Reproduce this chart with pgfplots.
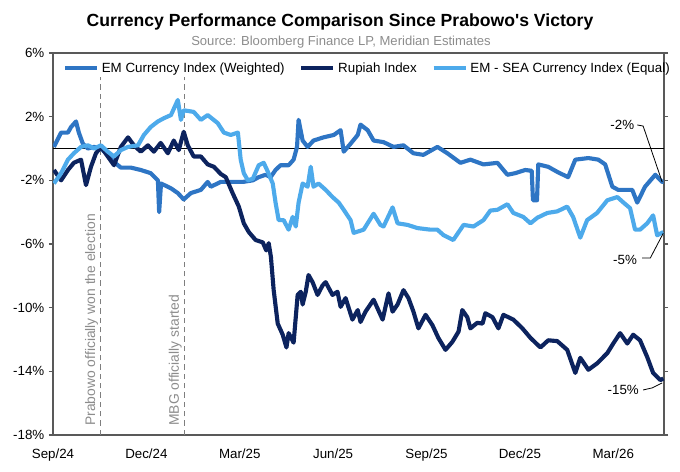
\documentclass[border=0pt]{standalone}
\usepackage{fontspec}
\setmainfont{Liberation Sans}
\usepackage{pgfplots}
\pgfplotsset{compat=1.18}
\definecolor{emw}{RGB}{46,117,196}
\definecolor{rup}{RGB}{12,35,94}
\definecolor{sea}{RGB}{77,170,235}
\definecolor{axgray}{RGB}{89,89,89}
\definecolor{txtgray}{RGB}{140,140,140}
\begin{document}
\begin{tikzpicture}
\path[use as bounding box] (-39.75pt,-27pt) rectangle (470.25pt,326.25pt);
\node[font=\fontsize{13.2}{16}\selectfont\bfseries] at (215.25pt,309.5pt) {Currency Performance Comparison Since Prabowo\XeTeXglyph\XeTeXcharglyph"0027 s Victory};
\node[font=\fontsize{9.8}{12}\selectfont, text=txtgray] at (216pt,294.5pt) {Source: Bloomberg Finance LP, Meridian Estimates};
\begin{axis}[
  at={(0,0)}, anchor=south west,
  scale only axis, width=458.25pt, height=286.5pt,
  xmin=0, xmax=19.63, ymin=-18, ymax=6,
  xtick={0,3,6,9,12,15,18},
  xticklabels={Sep/24,Dec/24,Mar/25,Jun/25,Sep/25,Dec/25,Mar/26},
  ytick={-18,-14,-10,-6,-2,2,6},
  yticklabels={-18\%,-14\%,-10\%,-6\%,-2\%,2\%,6\%},
  tick label style={font=\fontsize{10}{12}\selectfont},
  xticklabel style={yshift=-4pt},
  major x tick style={draw=none},
  ytick style={draw=axgray, line width=0.8pt},
  tick align=outside, major tick length=3pt,
  axis line style={draw=axgray, line width=0.9pt},
  legend style={at={(0.515,0.99)}, anchor=north, draw=none, fill=none,
     font=\fontsize{10}{12}\selectfont, legend columns=3,
     /tikz/every even column/.append style={column sep=9pt}},
  legend image code/.code={\draw[#1, line width=3.2pt] (0pt,0pt) -- (24pt,0pt);},
  every axis plot/.append style={line join=round},
]
\addplot[black, line width=0.7pt, forget plot] coordinates {(0,0) (19.63,0)};
\addplot[txtgray!90!black, line width=0.8pt, dash pattern=on 4pt off 3pt, forget plot] coordinates {(1.54,-18) (1.54,4.5)};
\addplot[txtgray!90!black, line width=0.8pt, dash pattern=on 4pt off 3pt, forget plot] coordinates {(4.23,-18) (4.23,4.5)};

\addplot[emw, line width=3.1pt] coordinates {
(0.03,0.1) (0.26,1.0) (0.48,1.0) (0.58,1.35) (0.74,1.7) (0.83,1.0) (0.96,0.3) (1.12,0.0) (1.32,0.1) (1.54,0.0)
(1.76,-0.4) (1.96,-0.85) (2.18,-1.2) (2.50,-1.2) (2.82,-1.35) (3.14,-1.55) (3.37,-2.0) (3.41,-4.0) (3.47,-2.2)
(3.79,-2.5) (4.01,-2.8) (4.20,-3.2) (4.43,-2.8) (4.75,-2.6) (4.97,-2.1) (5.07,-2.4) (5.39,-2.1) (5.77,-2.1)
(6.10,-2.1) (6.42,-2.0) (6.61,-1.8) (6.83,-1.65) (6.99,-1.8) (7.15,-1.35) (7.31,-1.05) (7.57,-1.05) (7.73,-0.7)
(7.84,0.1) (7.89,1.8) (8.02,0.5)
(8.18,0.1) (8.37,0.5) (8.69,0.7) (9.02,0.85) (9.24,1.15) (9.34,-0.2) (9.56,0.3) (9.79,0.85) (9.88,1.5)
(10.11,1.15) (10.30,0.5) (10.62,0.4) (10.94,0.1) (11.26,0.2) (11.58,-0.3) (11.90,-0.4) (12.35,0.1) (12.67,-0.3)
(13.09,-0.9) (13.41,-0.7) (13.83,-1.0) (14.28,-0.9) (14.60,-1.65) (14.85,-1.55) (15.17,-1.35) (15.38,-1.4)
(15.42,-3.25) (15.55,-3.25) (15.59,-1.0) (15.91,-1.15) (16.23,-1.5) (16.55,-1.8) (16.78,-0.7) (17.20,-0.6)
(17.52,-0.7) (17.74,-1.0) (17.97,-2.4) (18.16,-2.6) (18.61,-2.6) (18.77,-3.4) (19.02,-2.4) (19.35,-1.65)
(19.57,-2.1) (19.62,-2.1)
};
\addlegendentry{EM Currency Index (Weighted)}

\addplot[rup, line width=3.1pt] coordinates {
(0.03,-1.35) (0.26,-2.0) (0.48,-1.35) (0.67,-0.9) (0.90,-0.7) (1.06,-2.3) (1.22,-1.15) (1.38,-0.3) (1.54,0.1)
(1.76,-0.5) (1.96,-1.05) (2.18,0.1) (2.41,0.7) (2.60,0.2) (2.82,-0.2) (3.05,0.2) (3.24,-0.2) (3.46,0.35)
(3.69,-0.3) (3.88,0.5) (4.04,-0.1) (4.20,1.05) (4.33,0.2) (4.52,-0.5) (4.75,-0.5) (4.97,-1.0) (5.17,-1.15)
(5.39,-1.6) (5.55,-1.8) (5.77,-2.8) (5.97,-3.65) (6.13,-4.7) (6.29,-5.25) (6.51,-5.75) (6.74,-5.9) (6.85,-6.4)
(6.93,-5.95) (7.00,-6.8) (7.09,-8.9) (7.22,-11.0) (7.38,-11.7) (7.50,-12.5) (7.57,-11.6) (7.73,-12.2)
(7.86,-9.2) (7.96,-9.0) (8.02,-9.8) (8.12,-9.0) (8.21,-7.95) (8.34,-8.4) (8.50,-9.2) (8.66,-8.6) (8.76,-8.4)
(8.98,-9.2) (9.14,-9.0) (9.24,-9.95) (9.40,-9.4) (9.62,-10.75) (9.79,-10.15) (9.88,-10.9) (10.04,-10.25)
(10.30,-9.5) (10.59,-10.75) (10.78,-9.1) (10.91,-10.25) (11.07,-9.8) (11.26,-8.9) (11.42,-9.4) (11.58,-10.25)
(11.74,-11.3) (11.97,-10.45) (12.19,-11.1) (12.38,-11.9) (12.61,-12.65) (12.83,-12.15) (13.03,-11.5)
(13.15,-10.15) (13.31,-10.6) (13.41,-11.3) (13.63,-10.95) (13.80,-11.0) (13.89,-10.35) (14.12,-10.6)
(14.31,-11.3) (14.47,-10.45) (14.79,-10.75) (15.08,-11.3) (15.34,-11.9) (15.66,-12.5) (15.91,-12.05)
(16.20,-12.1) (16.52,-12.65) (16.78,-14.1) (16.94,-13.15) (17.20,-13.9) (17.48,-13.5) (17.81,-12.85)
(18.00,-12.25) (18.22,-11.6) (18.45,-12.25) (18.64,-11.7) (18.86,-12.05) (19.09,-13.1) (19.28,-14.1)
(19.51,-14.55) (19.61,-14.45)
};
\addlegendentry{Rupiah Index}

\addplot[sea, line width=3.1pt] coordinates {
(0.03,-2.2) (0.26,-1.55) (0.48,-0.7) (0.67,-0.3) (0.90,0.1) (1.12,0.2) (1.32,0.0) (1.54,0.2) (1.76,-0.2)
(1.96,-0.5) (2.18,-0.1) (2.41,0.1) (2.73,0.2) (2.92,0.85) (3.14,1.35) (3.37,1.7) (3.56,1.9) (3.79,2.1)
(4.01,3.05) (4.11,1.8) (4.20,2.4) (4.52,2.3) (4.75,1.8) (4.97,2.1) (5.29,1.6) (5.49,1.0) (5.71,0.85)
(5.94,1.0) (6.03,-0.7) (6.13,-1.55) (6.26,-2.0) (6.42,-1.9) (6.61,-1.05) (6.77,-0.9) (6.90,-1.45)
(7.06,-2.2) (7.15,-3.4) (7.25,-4.5) (7.41,-4.5) (7.57,-5.1) (7.70,-4.3) (7.80,-4.9) (7.89,-3.4) (8.02,-2.2)
(8.18,-2.4) (8.28,-1.15) (8.37,-2.4) (8.53,-2.2) (8.76,-2.6) (8.98,-3.05) (9.18,-3.4) (9.34,-3.85)
(9.56,-4.5) (9.66,-5.3) (9.98,-5.1) (10.30,-4.1) (10.52,-4.8)
(10.62,-4.9) (10.91,-3.7) (11.07,-4.7) (11.39,-4.8) (11.71,-5.0) (12.13,-5.1) (12.35,-5.1) (12.55,-5.45)
(12.86,-5.75) (13.19,-4.8) (13.51,-4.9) (13.83,-4.5) (14.05,-3.9) (14.28,-3.85) (14.60,-3.5) (14.79,-4.05)
(15.11,-4.3) (15.34,-4.7) (15.56,-4.35) (15.88,-4.05) (16.20,-3.95) (16.52,-3.65) (16.71,-4.3) (16.94,-5.6)
(17.16,-4.5) (17.48,-4.05) (17.81,-3.25) (18.13,-3.05) (18.33,-3.4) (18.54,-3.75) (18.70,-5.1) (18.86,-5.1)
(19.09,-4.7) (19.28,-4.2) (19.41,-5.45) (19.61,-5.25)
};
\addlegendentry{EM - SEA Currency Index (Equal)}

\node[rotate=90, anchor=south west, font=\fontsize{10.4}{12}\selectfont, text=txtgray, inner sep=2pt] at (axis cs:1.54,-17.6) {Prabowo officially won the election};
\node[rotate=90, anchor=south west, font=\fontsize{10.4}{12}\selectfont, text=txtgray, inner sep=2pt] at (axis cs:4.23,-17.6) {MBG officially started};

\draw[black, line width=0.6pt] (axis cs:18.77,1.48) -- (axis cs:18.96,1.41) -- (axis cs:19.57,-2.1);
\node[font=\fontsize{10}{12}\selectfont] at (axis cs:18.29,1.48) {-2\%};
\draw[black, line width=0.6pt] (axis cs:18.93,-6.88) -- (axis cs:19.19,-6.88) -- (axis cs:19.61,-5.31);
\node[font=\fontsize{10}{12}\selectfont] at (axis cs:18.38,-7.0) {-5\%};
\draw[black, line width=0.6pt] (axis cs:18.96,-15.17) -- (axis cs:19.25,-15.04) -- (axis cs:19.57,-14.73);
\node[font=\fontsize{10}{12}\selectfont] at (axis cs:18.32,-15.17) {-15\%};
\end{axis}
\end{tikzpicture}
\end{document}
